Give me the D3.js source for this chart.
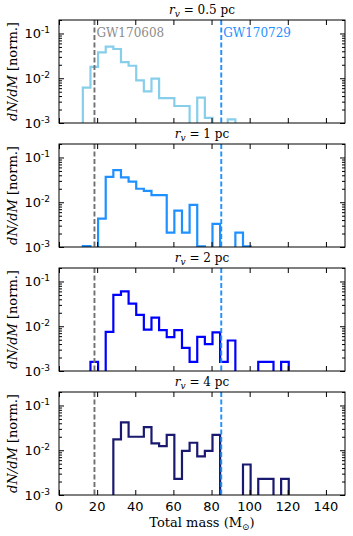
<!DOCTYPE html>
<html>
<head>
<meta charset="utf-8">
<script src="https://cdn.jsdelivr.net/npm/d3@7"></script>
<style>
  body { margin: 0; background: #fff; }
  svg { display: block; }
  .tick-label { font-family: "DejaVu Sans", sans-serif; font-size: 13px; fill: #000; }
  .serif { font-family: "DejaVu Serif", serif; fill: #000; }
</style>
</head>
<body>
<svg id="chart"></svg>
<script>
"use strict";
// bin edges of the mass histograms (Msun)
var massEdges = [12.5, 16.5, 20.5, 24.5, 28.5, 32.5, 36.5, 40.5, 44.5, 48.5, 52.5, 56.5, 60.5, 64.5,
    68.5, 72.5, 76.5, 80.5, 84.5, 88.5, 92.5, 96.5, 100.5, 104.5, 108.5, 112.5, 116.5, 120.5];
// dN/dM per bin, one list per virial radius (0 = empty bin)
var counts05pc = [0.0062, 0.018, 0.038, 0.051, 0.045, 0.023, 0.019, 0.009, 0.0051, 0.0098, 0.0036, 0.0036, 0.0024, 0.0024,
    0, 0.0037, 0.0013, 0, 0, 0.0012, 0, 0, 0, 0, 0, 0, 0];
var counts1pc = [0.00105, 0, 0.0043, 0.037, 0.052, 0.036, 0.029, 0.020, 0.018, 0.0144, 0.0144, 0.0021, 0.0065, 0.0021,
    0.0087, 0.00104, 0, 0.0033, 0, 0, 0.0021, 0.00104, 0, 0, 0, 0, 0];
var counts2pc = [0, 0.0016, 0, 0.0075, 0.050, 0.060, 0.032, 0.018, 0.0084, 0.0155, 0.0082, 0.0057, 0.0082, 0.0033,
    0.0016, 0.0058, 0.0040, 0.0073, 0.0016, 0.0048, 0, 0, 0, 0.0016, 0.0016, 0, 0.0016];
var counts4pc = [0, 0, 0, 0, 0.0175, 0.042, 0.020, 0.020, 0.033, 0.0142, 0.0123, 0.022, 0.0023, 0.0097,
    0.0147, 0.0073, 0.0097, 0.022, 0, 0, 0, 0.0048, 0, 0.0023, 0.0023, 0, 0.0023];
var radiusLabels = ["0.5", "1", "2", "4"];
var eventNames = ["GW170608", "GW170729"];
var eventMasses = [18.6, 85.1];
var xTicks = [0, 20, 40, 60, 80, 100, 120, 140];
var yTicks = [1e-3, 1e-2, 1e-1];
var yTickExp = ["-3", "-2", "-1"];

var seriesList = [counts05pc, counts1pc, counts2pc, counts4pc];
var lineColors = ["#87ceeb", "#1e90ff", "#0000ff", "#191970"];
var eventColors = ["#707070", "#1e90ff"];
var eventTextColors = ["#8c8c8c", "#1e90ff"];

var svgWidth = 353, svgHeight = 536;
var left = 59, right = 345, firstTop = 20, panelStep = 124, panelHeight = 103;

var svg = d3.select("#chart").attr("width", svgWidth).attr("height", svgHeight);

var x = d3.scaleLinear().domain([0, 150]).range([left, right]);

var minorTicks = [];
[1e-3, 1e-2, 1e-1].forEach(function (dec) {
    for (var k = 2; k <= 9; k++) {
        var v = dec * k;
        if (v <= 0.2) minorTicks.push(v);
    }
});

seriesList.forEach(function (series, i) {
    var top = firstTop + i * panelStep, bottom = top + panelHeight;
    var y = d3.scaleLog().domain([1e-3, 0.2]).range([bottom, top]);
    var g = svg.append("g").classed("panel", true);

    g.append("clipPath").attr("id", "clip" + i)
        .append("rect").attr("x", left).attr("y", top)
        .attr("width", right - left).attr("height", panelHeight);

    // step histogram
    var pts = [[x(massEdges[0]), bottom + 4]];
    series.forEach(function (v, j) {
        var yy = v > 0 ? y(v) : bottom + 4;
        pts.push([x(massEdges[j]), yy]);
        pts.push([x(massEdges[j + 1]), yy]);
    });
    pts.push([x(massEdges[massEdges.length - 1]), bottom + 4]);
    g.append("path")
        .attr("clip-path", "url(#clip" + i + ")")
        .attr("d", d3.line()(pts))
        .attr("fill", "none")
        .attr("stroke", lineColors[i])
        .attr("stroke-width", 2.2)
        .attr("stroke-linejoin", "miter");

    // event markers
    eventMasses.forEach(function (m, k) {
        g.append("line")
            .attr("x1", x(m)).attr("x2", x(m))
            .attr("y1", top).attr("y2", bottom)
            .attr("stroke", eventColors[k])
            .attr("stroke-width", 1.9)
            .attr("stroke-dasharray", "5,2.5");
        if (i === 0) {
            g.append("text").classed("serif", true)
                .attr("x", x(m) + 2).attr("y", top + 17)
                .style("font-size", "12px")
                .style("fill", eventTextColors[k])
                .text(eventNames[k]);
        }
    });

    // axes (inward ticks)
    g.append("g").attr("transform", "translate(0," + bottom + ")")
        .call(d3.axisBottom(x).tickValues(xTicks).tickSizeInner(-5).tickSizeOuter(0).tickFormat(""));
    g.append("g").attr("transform", "translate(0," + top + ")")
        .call(d3.axisTop(x).tickValues(xTicks).tickSizeInner(-5).tickSizeOuter(0).tickFormat(""));
    g.append("g").attr("transform", "translate(" + left + ",0)")
        .call(d3.axisLeft(y).tickValues(yTicks).tickSizeInner(-5).tickSizeOuter(0).tickFormat(""));
    g.append("g").attr("transform", "translate(" + left + ",0)")
        .call(d3.axisLeft(y).tickValues(minorTicks).tickSizeInner(-3).tickSizeOuter(0).tickFormat(""));
    g.append("g").attr("transform", "translate(" + right + ",0)")
        .call(d3.axisRight(y).tickValues(yTicks).tickSizeInner(-5).tickSizeOuter(0).tickFormat(""));
    g.append("g").attr("transform", "translate(" + right + ",0)")
        .call(d3.axisRight(y).tickValues(minorTicks).tickSizeInner(-3).tickSizeOuter(0).tickFormat(""));
    g.selectAll(".domain").remove();
    g.selectAll(".tick line").attr("stroke", "#000").attr("stroke-width", 1);

    g.append("rect")
        .attr("x", left).attr("y", top)
        .attr("width", right - left).attr("height", panelHeight)
        .attr("fill", "none").attr("stroke", "#000").attr("stroke-width", 1);

    // y tick labels
    yTicks.forEach(function (v, k) {
        var t = g.append("text").classed("tick-label", true)
            .attr("x", left - 9).attr("y", y(v) + 5)
            .attr("text-anchor", "end");
        t.append("tspan").text("10");
        t.append("tspan").attr("dy", -5).style("font-size", "9px").text(yTickExp[k]);
    });

    // title
    var title = g.append("text").classed("serif", true)
        .attr("x", (left + right) / 2).attr("y", top - 6)
        .attr("text-anchor", "middle")
        .style("font-size", "12px");
    title.append("tspan").style("font-style", "italic").text("r");
    title.append("tspan").attr("dy", 2.5).style("font-style", "italic").style("font-size", "9px").text("v");
    title.append("tspan").attr("dy", -2.5).text(" = " + radiusLabels[i] + " pc");

    // y label
    var yl = g.append("text").classed("serif", true)
        .attr("transform", "translate(17," + (top + panelHeight / 2) + ") rotate(-90)")
        .attr("text-anchor", "middle")
        .style("font-size", "13px");
    yl.append("tspan").style("font-style", "italic").text("dN/dM");
    yl.append("tspan").text(" [norm.]");

    if (i === seriesList.length - 1) {
        xTicks.forEach(function (v) {
            g.append("text").classed("tick-label", true)
                .attr("x", x(v)).attr("y", bottom + 16)
                .attr("text-anchor", "middle")
                .text(v);
        });
        var xl = g.append("text").classed("serif", true)
            .attr("x", (left + right) / 2).attr("y", bottom + 32)
            .attr("text-anchor", "middle")
            .style("font-size", "13px");
        xl.append("tspan").text("Total mass (M");
        xl.append("tspan").attr("dy", 3).style("font-size", "9px").text("\u2299");
        xl.append("tspan").attr("dy", -3).text(")");
    }
});
</script>
</body>
</html>
